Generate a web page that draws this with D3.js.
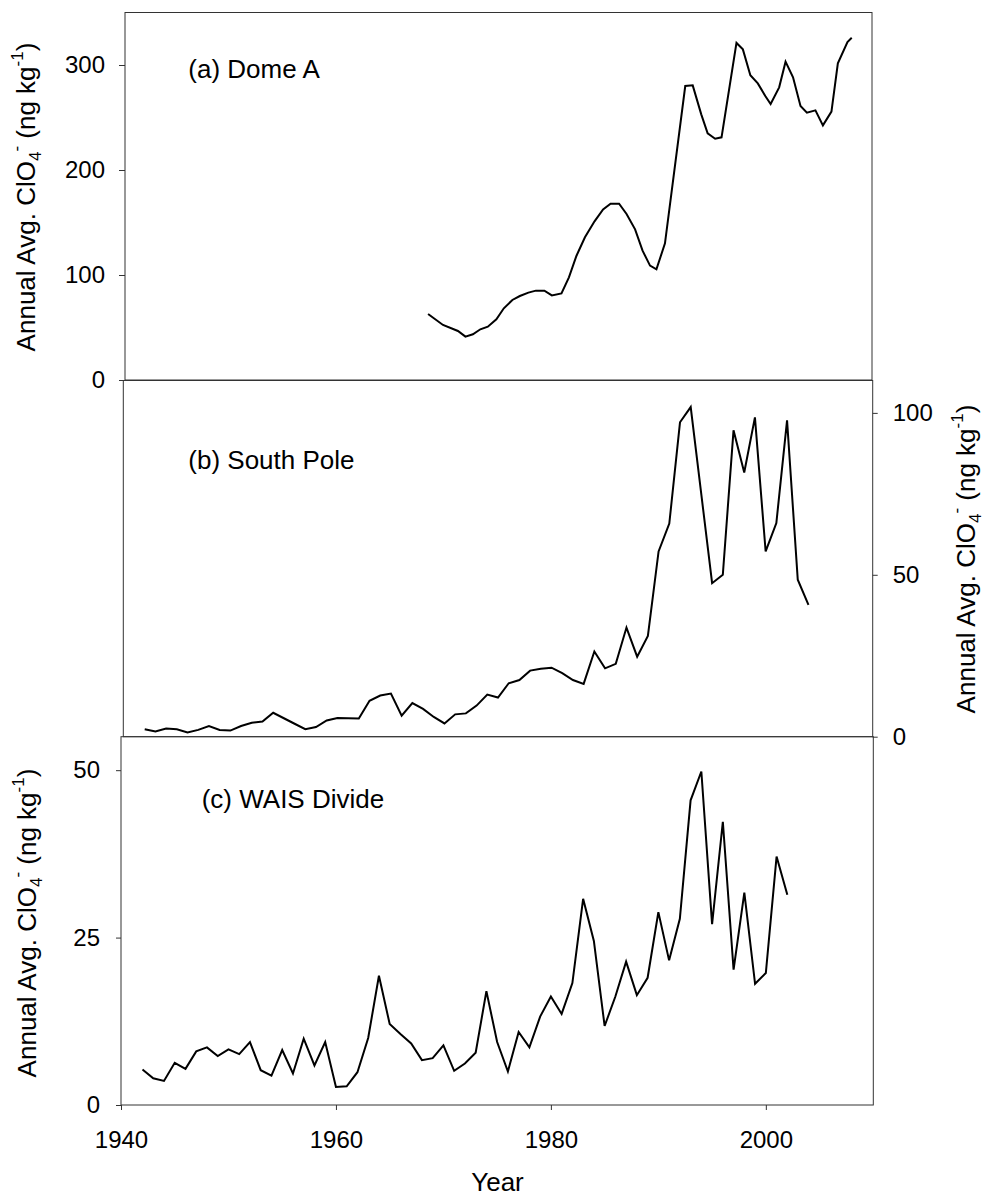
<!DOCTYPE html>
<html><head><meta charset="utf-8">
<script src="https://cdn.jsdelivr.net/npm/d3@7"></script>
<style>
body{margin:0;background:#fff}
text{font-family:"Liberation Sans",Arial,Helvetica,sans-serif;fill:#000}
</style>
</head><body>
<svg id="chart" width="984" height="1195"></svg>
<script>
// ---- Data ----
const domeYears = [1968.4,1969.8,1971.2,1971.9,1972.6,1973.3,1974.0,1974.8,1975.5,1976.3,1977.0,1977.8,1978.5,1979.3,1980.0,1980.9,1981.6,1982.3,1983.1,1984.0,1984.8,1985.5,1986.3,1987.0,1987.8,1988.5,1989.2,1989.8,1990.6,1992.5,1993.2,1994.0,1994.6,1995.3,1995.9,1997.3,1997.9,1998.6,1999.3,2000.0,2000.5,2001.3,2001.9,2002.6,2003.3,2003.9,2004.7,2005.4,2006.2,2006.8,2007.7,2008.1];
const domeValues = [62.9,52.4,46.7,41.3,43.5,48.3,50.8,57.8,68.3,76.2,80.0,83.2,85.1,85.1,80.6,82.5,97.8,118.1,135.9,151.1,162.5,167.9,167.9,158.1,143.5,123.2,108.9,105.4,130.2,280.0,280.6,253.0,234.9,229.8,231.1,321.0,314.9,290.2,282.5,270.5,262.9,278.7,303.2,288.3,261.0,254.6,256.8,242.5,255.6,301.6,321.9,326.0];

const spYears = [1942,1943,1944,1945,1946,1947,1948,1949,1950,1951,1952,1953,1954,1955,1956,1957,1958,1959,1960,1961,1962,1963,1964,1965,1966,1967,1968,1969,1970,1971,1972,1973,1974,1975,1976,1977,1978,1979,1980,1981,1982,1983,1984,1985,1986,1987,1988,1989,1990,1991,1992,1993,1994,1995,1996,1997,1998,1999,2000,2001,2002,2003,2004];
const spValues = [2.3,1.6,2.5,2.3,1.3,2.1,3.3,2.1,1.9,3.3,4.3,4.7,7.4,5.7,4.0,2.3,3.0,5.0,5.8,5.7,5.6,11.1,12.7,13.3,6.5,10.4,8.6,6.1,4.1,6.9,7.2,9.6,13.0,12.1,16.5,17.5,20.4,21.0,21.3,19.6,17.5,16.3,26.3,21.1,22.5,33.7,24.7,31.1,57.2,65.8,97.1,101.8,74.6,47.4,50.0,94.6,81.6,98.6,57.2,66.0,97.7,48.5,40.7];

const waisYears = [1942,1943,1944,1945,1946,1947,1948,1949,1950,1951,1952,1953,1954,1955,1956,1957,1958,1959,1960,1961,1962,1963,1964,1965,1966,1967,1968,1969,1970,1971,1972,1973,1974,1975,1976,1977,1978,1979,1980,1981,1982,1983,1984,1985,1986,1987,1988,1989,1990,1991,1992,1993,1994,1995,1996,1997,1998,1999,2000,2001,2002];
const waisValues = [5.3,4.0,3.6,6.3,5.4,8.0,8.6,7.3,8.3,7.6,9.4,5.2,4.4,8.2,4.7,9.9,5.9,9.4,2.7,2.8,4.9,10.0,19.3,12.1,10.6,9.2,6.7,7.0,8.9,5.1,6.2,7.8,17.0,9.4,5.0,10.9,8.6,13.2,16.2,13.6,18.2,30.8,24.5,11.8,16.2,21.4,16.4,19.0,28.8,21.6,27.8,45.5,49.8,27.0,42.3,20.2,31.7,18.1,19.7,37.1,31.4];

const xDomain = [1940, 2010];
const xTicks = [1940, 1960, 1980, 2000];
const domeTicks = [0, 100, 200, 300];
const spTicks = [0, 50, 100];
const waisTicks = [0, 25, 50];
const titles = ["(a) Dome A", "(b) South Pole", "(c) WAIS Divide"];
const xLabel = "Year";

// ---- Drawing ----
const svg = d3.select("#chart");
const frameColor = "#333";

function yLabel(g, x, y) {
  const t = g.append("text")
    .attr("transform", `translate(${x},${y}) rotate(-90)`)
    .attr("text-anchor", "middle")
    .style("font-size", "26px");
  t.append("tspan").text("Annual Avg. ClO");
  t.append("tspan").attr("dy", 6).style("font-size", "17px").text("4");
  t.append("tspan").attr("dy", -19).style("font-size", "17px").text("-");
  t.append("tspan").attr("dy", 13).text(" (ng kg");
  t.append("tspan").attr("dy", -12).style("font-size", "17px").text("-1");
  t.append("tspan").attr("dy", 12).text(")");
}

function panel(cfg) {
  const x = d3.scaleLinear().domain(xDomain).range([cfg.left, cfg.right]);
  const y = d3.scaleLinear().domain(cfg.yDomain).range([cfg.bottom, cfg.top]);
  const g = svg.append("g");

  g.append("rect")
    .attr("x", cfg.left).attr("y", cfg.top)
    .attr("width", cfg.right - cfg.left).attr("height", cfg.bottom - cfg.top)
    .attr("fill", "none").attr("stroke", frameColor).attr("stroke-width", 1);

  const line = d3.line().x(d => x(d[0])).y(d => y(d[1]));
  g.append("path")
    .datum(cfg.years.map((yr, i) => [yr, cfg.values[i]]))
    .attr("d", line)
    .attr("fill", "none").attr("stroke", "#000").attr("stroke-width", 2)
    .attr("stroke-linejoin", "miter");

  const axis = (cfg.yRight ? d3.axisRight(y) : d3.axisLeft(y))
    .tickValues(cfg.yTicks).tickSize(cfg.tickSize).tickPadding(cfg.tickPad)
    .tickFormat(d3.format("d"));
  const ag = g.append("g")
    .attr("transform", `translate(${cfg.yRight ? cfg.right : cfg.left},0)`)
    .call(axis);
  ag.select(".domain").remove();
  ag.selectAll(".tick line").attr("stroke", frameColor);
  ag.selectAll(".tick text").style("font-size", "24px")
    .style("font-family", '"Liberation Sans",Arial,sans-serif').attr("fill", "#000");

  if (cfg.xAxis) {
    const xa = g.append("g")
      .attr("transform", `translate(0,${cfg.bottom})`)
      .call(d3.axisBottom(x).tickValues(xTicks).tickSize(5).tickPadding(21).tickFormat(d3.format("d")));
    xa.select(".domain").remove();
    xa.selectAll(".tick line").attr("stroke", frameColor);
    xa.selectAll(".tick text").style("font-size", "24px")
      .style("font-family", '"Liberation Sans",Arial,sans-serif').attr("fill", "#000");
  }

  g.append("text")
    .attr("x", cfg.titleX).attr("y", cfg.titleY)
    .style("font-size", "26px")
    .text(cfg.title);

  yLabel(g, cfg.labelX, cfg.labelY);
}

panel({left: 125, right: 872, top: 12.5, bottom: 380, yDomain: [0, 350],
  years: domeYears, values: domeValues, yTicks: domeTicks, tickSize: 6, tickPad: 14,
  title: titles[0], titleX: 188.3, titleY: 77.7, labelX: 35, labelY: 197});

panel({left: 123.3, right: 872.7, top: 380.5, bottom: 736.7, yDomain: [0, 110], yRight: true,
  years: spYears, values: spValues, yTicks: spTicks, tickSize: 5, tickPad: 15,
  title: titles[1], titleX: 188.3, titleY: 469.3, labelX: 975, labelY: 559});

panel({left: 121, right: 873.3, top: 736.7, bottom: 1105, yDomain: [0, 55],
  years: waisYears, values: waisValues, yTicks: waisTicks, tickSize: 5, tickPad: 16, xAxis: true,
  title: titles[2], titleX: 201.7, titleY: 808.3, labelX: 36, labelY: 923});

svg.append("text")
  .attr("x", 497.5).attr("y", 1190.5)
  .attr("text-anchor", "middle")
  .style("font-size", "26px")
  .text(xLabel);
</script>
</body></html>
